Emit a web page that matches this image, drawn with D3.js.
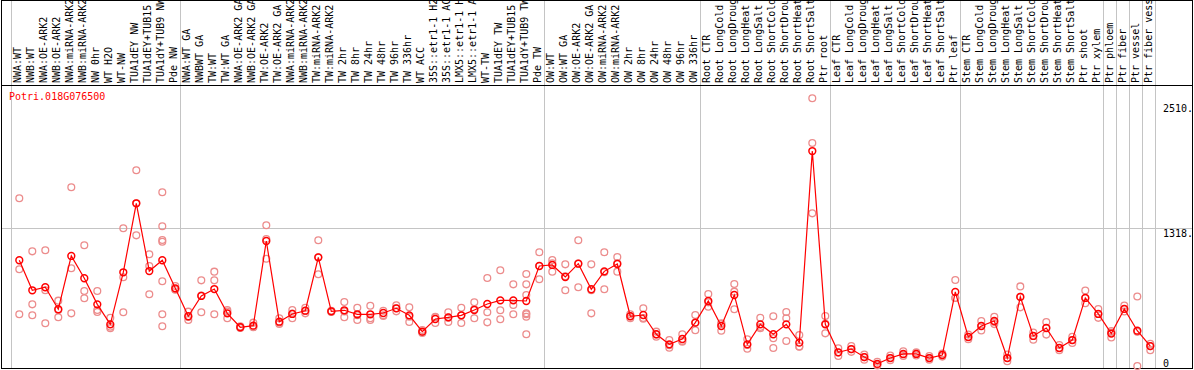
<!DOCTYPE html>
<html>
<head>
<meta charset="utf-8">
<script src="https://cdn.jsdelivr.net/npm/d3@7"></script>
<style>
  body { margin: 0; background: #fff; }
  svg { display: block; }
  text { font-family: "DejaVu Sans Mono", monospace; font-size: 10px; }
</style>
</head>
<body>
<svg id="chart" width="1194" height="370"></svg>
<script>
// column labels (as shown, cut to 14 chars)
const samples = [
  "NWA:WT", "NWB:WT", "NWA:OE-ARK2", "NWB:OE-ARK2", "NWA:miRNA-ARK2", "NWB:miRNA-ARK2",
  "NW 0hr", "WT H2O", "WT-NW", "TUA1dEY NW", "TUA1dEY+TUB15", "TUA1dY+TUB9 NW", "Pde NW",
  "NWA:WT GA", "NWBWT GA", "TW:WT", "TW:WT GA", "NWA:OE-ARK2 GA", "NWB:OE-ARK2 GA",
  "TW:OE-ARK2", "TW:OE-ARK2 GA", "NWA:miRNA-ARK2", "NWB:miRNA-ARK2", "TW:miRNA-ARK2", "TW:miRNA-ARK2",
  "TW 2hr", "TW 8hr", "TW 24hr", "TW 48hr", "TW 96hr", "TW 336hr", "WT ACC",
  "35S::etr1-1 H2", "35S::etr1-1 AC", "LMX5::etr1-1 H", "LMX5::etr1-1 A",
  "WT-TW", "TUA1dEY TW", "TUA1dEY+TUB15", "TUA1dY+TUB9 TW", "Pde TW",
  "OW:WT", "OW:WT GA", "OW:OE-ARK2", "OW:OE-ARK2 GA", "OW:miRNA-ARK2", "OW:miRNA-ARK2",
  "OW 2hr", "OW 8hr", "OW 24hr", "OW 48hr", "OW 96hr", "OW 336hr",
  "Root CTR", "Root LongCold", "Root LongDroug", "Root LongHeat", "Root LongSalt",
  "Root ShortCold", "Root ShortDrou", "Root ShortHeat", "Root ShortSalt", "Ptr root",
  "Leaf CTR", "Leaf LongCold", "Leaf LongDroug", "Leaf LongHeat", "Leaf LongSalt",
  "Leaf ShortCold", "Leaf ShortDrou", "Leaf ShortHeat", "Leaf ShortSalt", "Ptr leaf",
  "Stem CTR", "Stem LongCold", "Stem LongDroug", "Stem LongHeat", "Stem LongSalt",
  "Stem ShortCold", "Stem ShortDrou", "Stem ShortHeat", "Stem ShortSalt", "Ptr shoot",
  "Ptr xylem", "Ptr phloem", "Ptr fiber", "Ptr vessel", "Ptr fiber vess"
];

// how many columns in each experiment block
const groupSizes = [13, 28, 12, 10, 10, 11, 1, 1, 1, 1];

// mean expression per sample
const means = [
  1010, 723, 752, 542, 1051, 838, 589, 398, 895, 1554, 907, 1010, 742,
  475, 669, 735, 503, 370, 385, 1194, 423, 497, 528, 1038, 522,
  532, 494, 494, 506, 551, 484, 328, 449, 465, 484, 535,
  592, 627, 627, 621, 955,
  965, 850, 977, 733, 904, 974, 475, 487, 303, 207, 258, 414,
  621, 382, 678, 207, 398, 303, 398, 223, 2053, 398,
  131, 162, 85, 20, 76, 115, 115, 76, 105, 707,
  277, 382, 430, 76, 660, 287, 363, 172, 248, 650,
  497, 310, 545, 337, 190
];

// single replicates per sample
const reps = [
  [1602, 924, 494], [1095, 589, 484], [1105, 723, 408], [624, 465, 535], [1707, 933, 503], [1153, 716, 647],
  [716, 535, 516], [461, 360, 375], [1315, 847, 513], [1869, 1248, 1554], [1067, 955, 685],
  [1659, 1334, 1203, 1187, 809, 494, 379], [764, 733, 729],
  [519, 439, 468], [818, 513, 674], [901, 818, 494], [535, 456, 520], [378, 363, 370], [414, 370, 375],
  [1344, 1025, 1213], [456, 401, 413], [535, 456, 500], [557, 503, 525], [1201, 876, 1038], [528, 516, 522],
  [611, 465, 520], [557, 439, 485], [576, 439, 456], [528, 478, 484], [580, 522, 551], [561, 420, 471],
  [344, 315, 325], [471, 411, 465], [513, 420, 462], [557, 411, 484], [608, 456, 541],
  [840, 513, 417], [914, 532, 446], [780, 583, 494], [879, 780, 678, 503, 494, 471, 303], [1086, 955, 828],
  [1012, 901, 981], [971, 723, 856], [1201, 752, 979], [971, 503, 723], [1086, 733, 895], [1041, 901, 981],
  [494, 456, 475], [551, 452, 458], [328, 280, 301], [248, 175, 199], [303, 232, 239], [487, 341, 413],
  [688, 566, 608], [408, 337, 401], [783, 542, 710], [255, 165, 201], [461, 360, 372],
  [475, 265, 172], [516, 456, 239], [296, 184, 187], [2557, 2130, 1458], [478, 312, 404],
  [169, 96, 128], [190, 135, 160], [110, 60, 85], [40, 5, 15], [100, 55, 76], [140, 95, 110],
  [130, 100, 115], [95, 60, 76], [120, 90, 105], [821, 649, 650],
  [300, 255, 277], [430, 340, 382], [470, 400, 420], [110, 45, 76], [760, 560, 660], [320, 250, 287],
  [420, 300, 363], [200, 150, 172], [280, 220, 248], [720, 600, 650],
  [545, 497, 460], [334, 272, 320], [577, 520, 545], [664, 0, 326], [151, 212, 190]
];

const yTicks = [0, 1318, 2510];
const geneName = "Potri.018G076500";

const svg = d3.select('#chart');
const headerY = 85.5, bottomY = 368.5;

// labels repeat, so the band scale works on column index
const x = d3.scaleBand()
  .domain(d3.range(samples.length))
  .range([12.8, 12.8 + 13 * samples.length]);
const cx = i => x(i) + x.bandwidth() / 2;

const y = d3.scaleLinear()
  .domain([0, 2636])
  .range([366, 90]);

// group separators
let starts = [0];
groupSizes.forEach(n => starts.push(starts[starts.length - 1] + n));
svg.append('g')
  .selectAll('line')
  .data(starts)
  .join('line')
  .attr('x1', d => Math.round(12.8 + 13 * d - 2.3) + 0.5)
  .attr('x2', d => Math.round(12.8 + 13 * d - 2.3) + 0.5)
  .attr('y1', 0)
  .attr('y2', bottomY)
  .attr('stroke', '#c4c4c4')
  .attr('stroke-width', 1);

// horizontal grid at middle tick
svg.append('line')
  .attr('x1', 1).attr('x2', 1192)
  .attr('y1', Math.round(y(1318)) + 0.5).attr('y2', Math.round(y(1318)) + 0.5)
  .attr('stroke', '#c4c4c4');

// frame
svg.append('rect')
  .attr('x', 1.5).attr('y', 0.5)
  .attr('width', 1191).attr('height', 368)
  .attr('fill', 'none')
  .attr('stroke', '#000');
svg.append('line')
  .attr('x1', 1).attr('x2', 1193)
  .attr('y1', headerY).attr('y2', headerY)
  .attr('stroke', '#000');

// column labels, rotated
svg.append('g')
  .selectAll('text')
  .data(samples)
  .join('text')
  .attr('transform', (d, i) => `translate(${cx(i) + 2}, 83) rotate(-90)`)
  .attr('fill', '#000')
  .text(d => d);

// y axis on right
const yAxis = d3.axisRight(y)
  .tickValues(yTicks)
  .tickSize(0)
  .tickPadding(3)
  .tickFormat(d => d === 0 ? '0' : d + '.');
const ax = svg.append('g')
  .attr('transform', 'translate(1160, 0)')
  .call(yAxis);
ax.select('.domain').remove();
ax.selectAll('text')
  .attr('font-family', '"DejaVu Sans Mono", monospace')
  .attr('font-size', 10)
  .attr('fill', '#000')
  .attr('dy', d => d === 0 ? '0' : '0.85em');

// gene name
svg.append('text')
  .attr('x', 9)
  .attr('y', 100)
  .attr('fill', '#ff0000')
  .text(geneName);

// replicates
const repPts = [];
samples.forEach((s, i) => reps[i].forEach(v => repPts.push({ i, v })));
svg.append('g')
  .selectAll('circle')
  .data(repPts)
  .join('circle')
  .attr('cx', d => cx(d.i))
  .attr('cy', d => y(d.v))
  .attr('r', 3.4)
  .attr('fill', 'none')
  .attr('stroke', '#ec8c8c')
  .attr('stroke-width', 1.3);

// mean line
const line = d3.line()
  .x((d, i) => cx(i))
  .y(d => y(d));
svg.append('path')
  .datum(means)
  .attr('d', line)
  .attr('fill', 'none')
  .attr('stroke', '#ff0000')
  .attr('stroke-width', 1.2);

svg.append('g')
  .selectAll('circle')
  .data(means)
  .join('circle')
  .attr('cx', (d, i) => cx(i))
  .attr('cy', d => y(d))
  .attr('r', 3.4)
  .attr('fill', 'none')
  .attr('stroke', '#ff0000')
  .attr('stroke-width', 1.5);
</script>
</body>
</html>
